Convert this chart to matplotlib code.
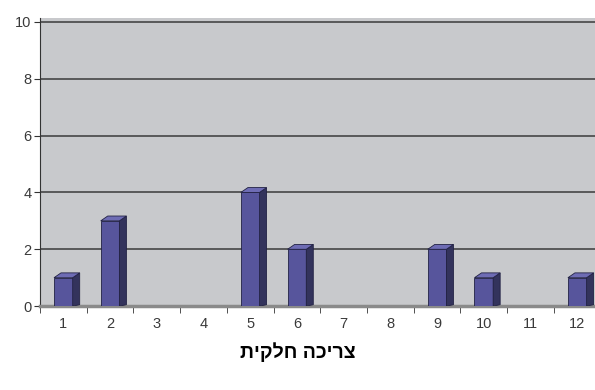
import numpy as np
import matplotlib.pyplot as plt
from matplotlib.patches import Polygon

# data
months = [1, 2, 3, 4, 5, 6, 7, 8, 9, 10, 11, 12]
values = [1, 3, 0, 0, 4, 2, 0, 0, 2, 1, 0, 1]
title = "צריכה חלקית"

plt.rcParams['font.family'] = ['Liberation Sans', 'DejaVu Sans']

fig = plt.figure(figsize=(5.95, 3.9), dpi=100)
ax = fig.add_axes([0.0672, 0.215, 0.9328, 0.74])
ax.set_facecolor('#c8c9cc')

width = 0.4
dx, dy = 0.15, 0.17  # depth of the fake 3d bars, in data units
front = '#57559c'
side = '#33335c'
top = '#6e6cb4'

for m, v in zip(months, values):
    if v == 0:
        continue
    x0 = m - width / 2
    x1 = m + width / 2
    ax.bar(m, v, width=width, color=front, edgecolor='#222244', linewidth=0.6, zorder=3)
    ax.add_patch(Polygon([(x1, 0), (x1 + dx, dy * 0.3), (x1 + dx, v + dy), (x1, v)],
                         closed=True, facecolor=side, edgecolor='#222244', linewidth=0.6, zorder=3))
    ax.add_patch(Polygon([(x0, v), (x0 + dx, v + dy), (x1 + dx, v + dy), (x1, v)],
                         closed=True, facecolor=top, edgecolor='#222244', linewidth=0.6, zorder=3))

ax.set_xlim(0.5, 12.38)
ax.set_ylim(0, 10.15)
ax.set_yticks([0, 2, 4, 6, 8, 10])
ax.set_xticks(months)
ax.set_xticks(np.arange(0.5, 12.5, 1), minor=True)
ax.yaxis.grid(True, color='#3a3a3a', linewidth=1.1, zorder=1)
ax.set_axisbelow(True)

ax.tick_params(axis='x', which='major', length=0, pad=8, labelsize=10.5, labelcolor='#3a3a3a')
ax.tick_params(axis='x', which='minor', length=5, color='#333333', direction='out')
ax.tick_params(axis='y', length=4, color='#333333', labelsize=10.5, labelcolor='#3a3a3a', pad=2)

for s in ['top', 'right']:
    ax.spines[s].set_visible(False)
ax.spines['left'].set_color('#333333')
ax.spines['bottom'].set_color('#8a8a8a')
ax.spines['bottom'].set_linewidth(2.5)

# matplotlib lays out text left to right, so hebrew is reversed for display
fig.text(0.5, 0.097, title[::-1], ha='center', va='center', fontsize=14, fontweight='bold')

fig.savefig('out.png', dpi=100)
